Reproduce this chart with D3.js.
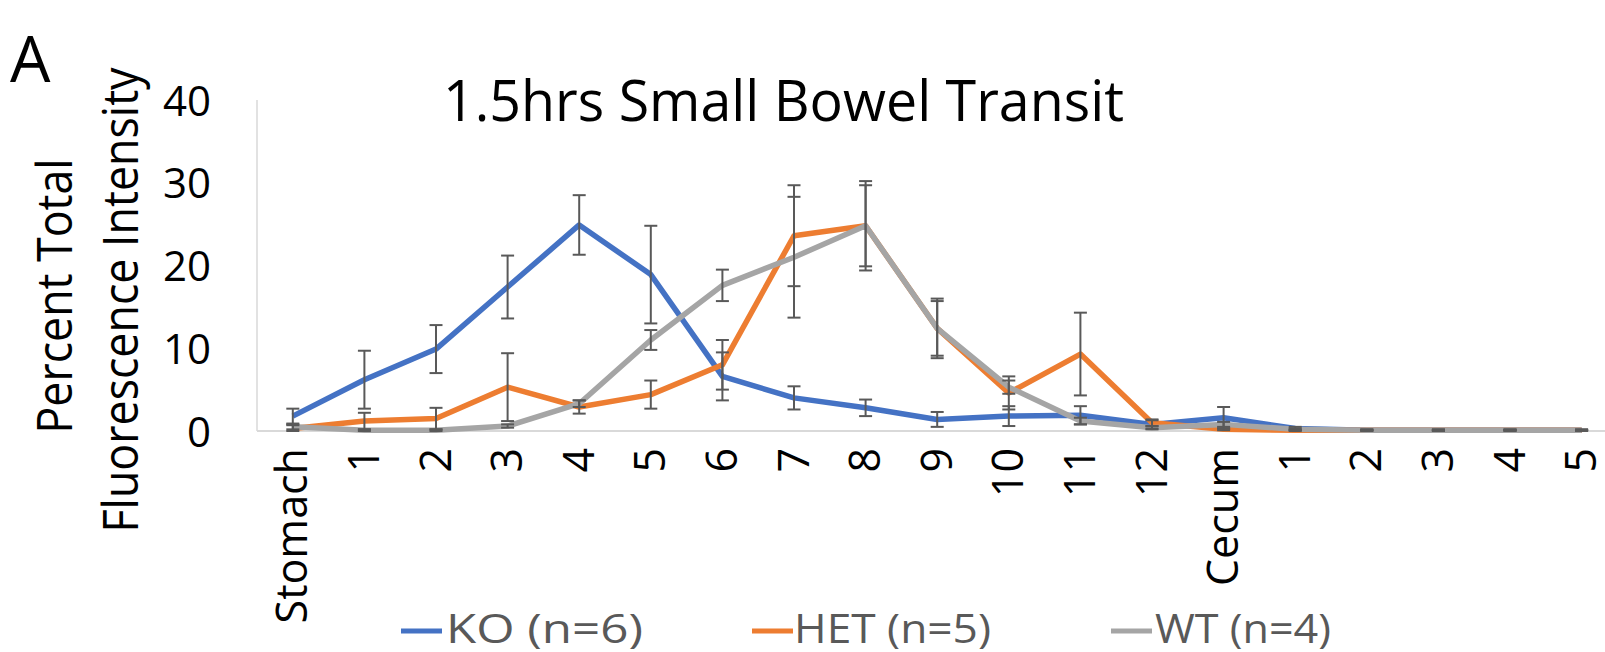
<!DOCTYPE html>
<html>
<head>
<meta charset="utf-8">
<script src="https://cdn.jsdelivr.net/npm/d3@7"></script>
<style>
  html, body { margin: 0; padding: 0; background: #fff; }
  svg { display: block; font-family: "Open Sans", "Noto Sans", sans-serif; }
</style>
</head>
<body>
<div id="chart"></div>
<script>
// Chart data
const categories = ["Stomach", "1", "2", "3", "4", "5", "6", "7", "8", "9", "10", "11", "12", "Cecum", "1 ", "2 ", "3 ", "4 ", "5 "];
const koValues  = [1.8, 6.2, 9.9, 17.4, 24.9, 18.9, 6.6, 4.0, 2.8, 1.4, 1.8, 1.9, 0.8, 1.6, 0.3, 0.1, 0.1, 0.1, 0.1];
const koErrors  = [0.9, 3.5, 2.9, 3.8, 3.6, 5.9, 2.9, 1.4, 1.0, 0.9, 1.2, 1.1, 0.5, 1.3, 0.2, 0.1, 0.1, 0.1, 0.1];
const hetValues = [0.3, 1.2, 1.5, 5.3, 2.9, 4.4, 8.0, 23.6, 24.8, 12.4, 4.6, 9.3, 1.0, 0.2, 0.1, 0.1, 0.1, 0.1, 0.1];
const hetErrors = [0.4, 1.0, 1.3, 4.1, 0.8, 1.7, 3.0, 6.1, 5.4, 3.6, 2.0, 5.0, 0.4, 0.1, 0.1, 0.05, 0.05, 0.05, 0.05];
const wtValues  = [0.5, 0.1, 0.1, 0.6, 3.3, 11.0, 17.6, 21.0, 24.8, 12.4, 5.3, 1.2, 0.4, 0.8, 0.2, 0.1, 0.1, 0.1, 0.1];
const wtErrors  = [0.3, 0.1, 0.1, 0.2, 0.4, 1.2, 1.9, 7.3, 4.9, 3.3, 0.8, 0.4, 0.2, 0.3, 0.1, 0.05, 0.05, 0.05, 0.05];
const yTicks = [0, 10, 20, 30, 40];
const seriesNames = ["KO (n=6)", "HET (n=5)", "WT (n=4)"];

const series = [
    { name: seriesNames[0], values: koValues,  errors: koErrors,  color: "#4472C4" },
    { name: seriesNames[1], values: hetValues, errors: hetErrors, color: "#ED7D31" },
    { name: seriesNames[2], values: wtValues,  errors: wtErrors,  color: "#A5A5A5" }
];

const W = 1605, H = 652;
const plot = { left: 257, top: 100, bottom: 431, step: 71.6 };

const svg = d3.select("#chart")
    .append("svg")
    .attr("width", W)
    .attr("height", H);

// Scales
const x = d3.scaleBand()
    .domain(categories)
    .range([plot.left, plot.left + plot.step * categories.length])
    .padding(0);
const cx = d => x(d) + x.bandwidth() / 2;

const y = d3.scaleLinear()
    .domain([0, 40])
    .range([plot.bottom, plot.top]);

// Axis lines
svg.append("line")
    .attr("x1", plot.left).attr("x2", plot.left)
    .attr("y1", plot.top).attr("y2", plot.bottom)
    .attr("stroke", "#d9d9d9").attr("stroke-width", 1.5);
svg.append("line")
    .attr("x1", plot.left).attr("x2", W)
    .attr("y1", plot.bottom).attr("y2", plot.bottom)
    .attr("stroke", "#d9d9d9").attr("stroke-width", 2);

// Y axis ticks
const yAxis = d3.axisLeft(y).tickValues(yTicks).tickSize(0).tickPadding(0);
const yg = svg.append("g")
    .attr("transform", `translate(211,0)`)
    .call(yAxis);
yg.select(".domain").remove();
yg.selectAll("text")
    .attr("font-size", 42)
    .attr("font-family", "Open Sans")
    .attr("fill", "#000")
    .attr("dy", "0.36em");

// X axis tick labels
const xAxis = d3.axisBottom(x).tickSize(0).tickFormat(d => d.trim());
const xg = svg.append("g")
    .attr("transform", `translate(0,${plot.bottom})`)
    .call(xAxis);
xg.select(".domain").remove();
xg.selectAll("text")
    .attr("font-size", 43)
    .attr("font-family", "Open Sans")
    .attr("fill", "#000")
    .attr("text-anchor", "end")
    .attr("transform", "rotate(-90)")
    .attr("x", -17)
    .attr("y", 0)
    .attr("dy", "0.34em");

// Lines
const line = d3.line()
    .x((d, i) => cx(categories[i]))
    .y(d => y(d));

svg.selectAll(".series-line")
    .data(series)
    .enter()
    .append("path")
    .attr("class", "series-line")
    .attr("fill", "none")
    .attr("stroke", d => d.color)
    .attr("stroke-width", 5.5)
    .attr("stroke-linejoin", "round")
    .attr("d", d => line(d.values));

// Error bars
const errData = [];
series.forEach(s => {
    s.values.forEach((v, i) => {
        errData.push({ cat: categories[i], v: v, e: s.errors[i] });
    });
});
const cap = 6.5;
const eg = svg.append("g")
    .attr("stroke", "#595959")
    .attr("stroke-width", 2);
errData.forEach(d => {
    const px = cx(d.cat);
    const top = y(d.v + d.e);
    const bot = y(Math.max(0, d.v - d.e));
    eg.append("line").attr("x1", px).attr("x2", px).attr("y1", top).attr("y2", bot);
    eg.append("line").attr("x1", px - cap).attr("x2", px + cap).attr("y1", top).attr("y2", top);
    eg.append("line").attr("x1", px - cap).attr("x2", px + cap).attr("y1", bot).attr("y2", bot);
});

// Title and panel letter
svg.append("text")
    .attr("x", 443).attr("y", 121)
    .attr("font-size", 57)
    .attr("textLength", 681)
    .attr("lengthAdjust", "spacingAndGlyphs")
    .attr("fill", "#000")
    .text("1.5hrs Small Bowel Transit");

svg.append("text")
    .attr("x", 10).attr("y", 82)
    .attr("font-size", 64)
    .attr("fill", "#000")
    .text("A");

// Y axis title (two lines)
svg.append("text")
    .attr("transform", "translate(72,296) rotate(-90)")
    .attr("text-anchor", "middle")
    .attr("font-size", 49)
    .attr("textLength", 275)
    .attr("lengthAdjust", "spacingAndGlyphs")
    .attr("fill", "#000")
    .text("Percent Total");
svg.append("text")
    .attr("transform", "translate(138,300) rotate(-90)")
    .attr("text-anchor", "middle")
    .attr("font-size", 49)
    .attr("textLength", 465)
    .attr("lengthAdjust", "spacingAndGlyphs")
    .attr("fill", "#000")
    .text("Fluorescence Intensity");

// Legend
const legendPos = [
    { lx: 401, tx: 446, tw: 197 },
    { lx: 752, tx: 794, tw: 197 },
    { lx: 1111, tx: 1155, tw: 176 }
];
const legend = svg.selectAll(".legend")
    .data(series)
    .enter()
    .append("g")
    .attr("class", "legend");
legend.append("line")
    .attr("x1", (d, i) => legendPos[i].lx)
    .attr("x2", (d, i) => legendPos[i].lx + 41)
    .attr("y1", 631).attr("y2", 631)
    .attr("stroke", d => d.color)
    .attr("stroke-width", 5);
legend.append("text")
    .attr("x", (d, i) => legendPos[i].tx)
    .attr("y", 643)
    .attr("font-size", 41)
    .attr("textLength", (d, i) => legendPos[i].tw)
    .attr("lengthAdjust", "spacingAndGlyphs")
    .attr("fill", "#595959")
    .text(d => d.name);
</script>
</body>
</html>
